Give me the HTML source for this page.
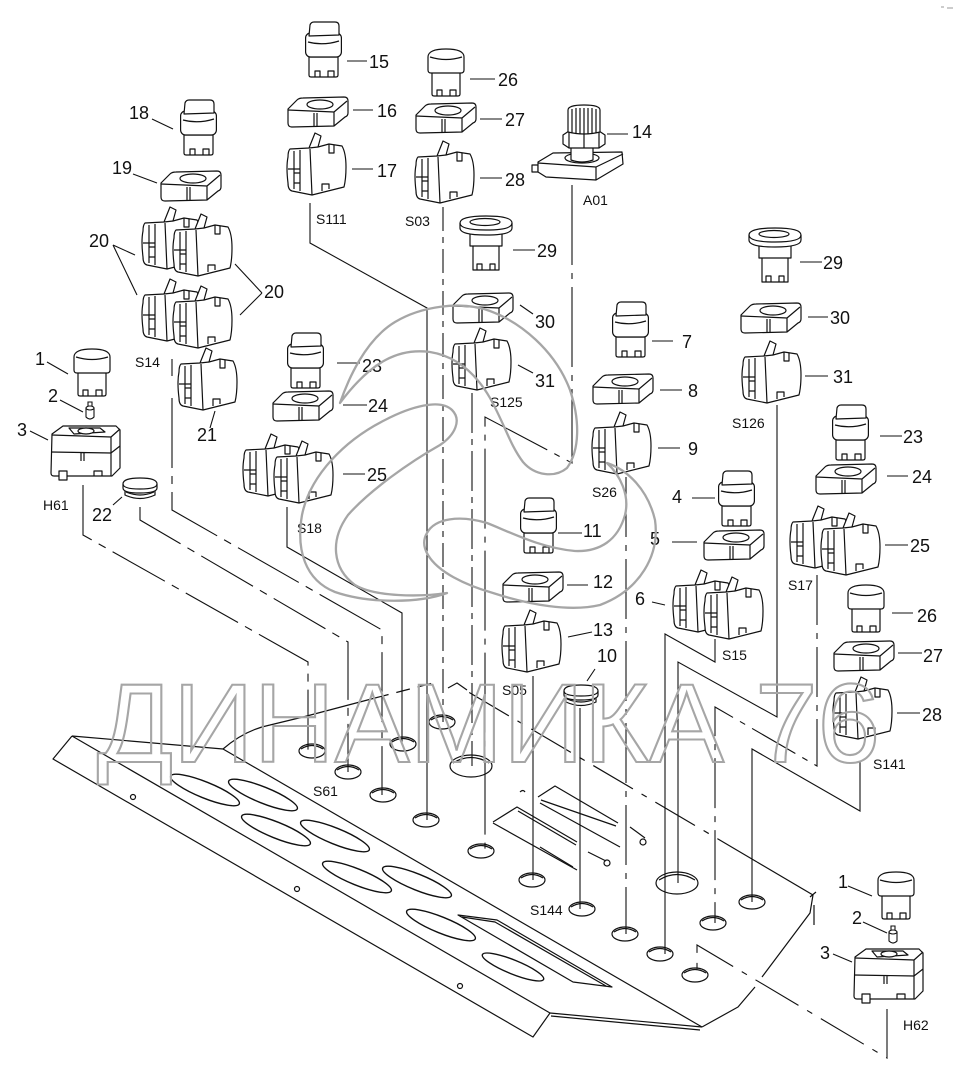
<!DOCTYPE html>
<html><head><meta charset="utf-8">
<style>
html,body{margin:0;padding:0;background:#fff;}
svg{display:block;}
text{font-family:"Liberation Sans",sans-serif;fill:#111;}
.n{font-size:18px;}
.s{font-size:14px;}
</style></head><body>
<svg width="961" height="1085" viewBox="0 0 961 1085" xmlns="http://www.w3.org/2000/svg">
<defs>
<g id="K" fill="#fff" stroke="#111" stroke-width="1.2" stroke-linejoin="round">
 <path d="M4,35 V53 Q4,55 6,55 H31 Q33,55 33,53 V35 Z"/>
 <path d="M10,55 V49 H15 V55 M23,55 V49 H29 V55" fill="none"/>
 <rect x="0.6" y="11" width="35.8" height="24" rx="5"/>
 <path d="M4,14 L5,3 Q6,0 9,0 H30 Q34,0 34,4 V13 Z"/>
 <path d="M3,20 Q18,24 34,19" fill="none"/>
</g>
<g id="B" fill="#fff" stroke="#111" stroke-width="1.2" stroke-linejoin="round">
 <path d="M5,25 V47 Q5,49 7,49 H31 Q33,49 33,47 V25 Z"/>
 <path d="M10,49 V43 H15 V49 M23,49 V43 H29 V49" fill="none"/>
 <path d="M1,10 Q1,2 19,2 Q37,2 37,10 V23 Q37,26 34,26 H4 Q1,26 1,23 Z"/>
 <path d="M3,10 Q19,15 35,10" fill="none"/>
</g>
<g id="F" fill="#fff" stroke="#111" stroke-width="1.2" stroke-linejoin="round">
 <path d="M13,28 V54 H39 V28 Z"/>
 <path d="M17,54 V48 H22 V54 M30,54 V48 H35 V54" fill="none"/>
 <path d="M10,16 V30 H42 V16 Z"/>
 <path d="M0,7 Q0,0 26,0 Q52,0 52,7 V12 Q52,19 26,19 Q0,19 0,12 Z"/>
 <path d="M0,7 Q0,14 26,14 Q52,14 52,7" fill="none"/>
 <ellipse cx="25" cy="6" rx="15" ry="3.5" fill="none"/>
</g>
<g id="A" fill="#fff" stroke="#111" stroke-width="1.2" stroke-linejoin="round">
 <path d="M1,12 L10,3 Q12,1 16,1 L57,0 Q61,0 61,4 V16 Q61,19 58,20 L47,29 L5,30 Q1,30 1,26 Z"/>
 <path d="M1,13 L47,15 L60,4 M47,15 V29 M27,16 V30 M30,16 V30" fill="none"/>
 <ellipse cx="33" cy="7.5" rx="13" ry="4.5" fill="none"/>
</g>
<g id="C" fill="#fff" stroke="#111" stroke-width="1.2" stroke-linejoin="round">
 <path d="M3,16 L22,15 L28,0 L34,3 L31,14 L42,11 L55,13 Q59,20 59,34 Q59,46 57,54 L25,62 L5,58 Q1,57 1,50 Q-1,34 1,24 Q1,18 3,16 Z"/>
 <path d="M7,18 V56 M13,17 V58 M23,16 L25,62 M1,36 H13 M7,40 H13 V50 H7 M35,58 V51 H42 V56 M42,11 V20 H47 V12 M22,15 L31,14" fill="none"/>
</g>
<g id="D"><use href="#C"/><use href="#C" x="31" y="7"/></g>
<g id="BS" fill="#fff" stroke="#111" stroke-width="1.2" stroke-linejoin="round">
 <path d="M2,9 L13,1 H66 L70,5 V43 L62,51 H4 Q1,51 1,48 Z"/>
 <path d="M2,10 L61,12 L70,4 M61,12 V51 M1,27 L61,28 L70,21 M19,3 H50 L55,7 L24,9 Z M31,28 V36 M34,28 V36 M44,51 V46 H52 V51" fill="none"/>
 <ellipse cx="36" cy="6" rx="8" ry="3"/>
 <path d="M9,46 V55 H17 V46 Z"/>
</g>
<g id="P" fill="#fff" stroke="#111" stroke-width="1.2" stroke-linejoin="round">
 <path d="M0,60 H-6 V67 H0 Z M15,65 V72 H24 V66 Z"/>
 <path d="M0,57 L15,48 L84,47 L85,59 L58,75 L8,72 L0,67 Z"/>
 <path d="M0,58 L58,62 L85,49 M58,62 V75" fill="none"/>
 <ellipse cx="44" cy="53" rx="17" ry="5" fill="none"/>
 <path d="M33,42 V55 Q44,59 55,55 V42 Z"/>
 <path d="M25,30 L31,26 H61 L67,30 V39 L61,43 H31 L25,39 Z"/>
 <path d="M31,26 V43 M46,26 V43 M61,26 V43" fill="none"/>
 <path d="M30,5 Q30,0 46,0 Q62,0 62,5 V27 Q46,31 30,27 Z"/>
 <path d="M34,4 V28 M38,3 V29 M42,3 V29 M46,3 V29 M50,3 V29 M54,3 V29 M58,4 V28" fill="none"/>
</g>
<g id="PIN" fill="#fff" stroke="#111" stroke-width="1.1">
 <path d="M3,5 V0 H7 V5 Z"/>
 <path d="M1,6 V15 Q5,19 9,15 V6 Z"/>
 <ellipse cx="5" cy="6" rx="4" ry="2"/>
</g>
<g id="CAP" fill="#fff" stroke="#111" stroke-width="1.2">
 <path d="M3,12 V18 Q18,25 33,18 V12 Z"/>
 <path d="M1,7 Q1,1 18,1 Q35,1 35,7 V11 Q35,16 18,16 Q1,16 1,11 Z"/>
 <path d="M1,7 Q1,12 18,12 Q35,12 35,7 M4,15 Q18,21 32,15" fill="none"/>
</g>
</defs>

<rect width="961" height="1085" fill="#fff"/>
<path d="M941,7 h3 M947,8 h6" stroke="#999" stroke-width="1"/>

<g fill="none" stroke="#111" stroke-width="1.2" stroke-linejoin="round">
 <path d="M72,736 L53,759 L533,1037 L550,1013"/>
 <path d="M72,736 L550,1013"/>
 <path d="M72,736 L223,749"/>
 <path d="M223,749 L702,1027"/>
 <path d="M550,1013 L702,1027 M551,1016 L700,1030"/>
 <path d="M702,1027 L738,1007 L755,987 M762,977 L810,913 L813,895 M810,897 L816,892 M814,905 V925"/>
 <path d="M813,895 L757,862"/>
 <path d="M757,862 L465,690" stroke-dasharray="46,10,6,10"/>
 <path d="M223,749 Q245,730 270,725 L303,717 L375,698"/>
 <path d="M375,698 L433,683" stroke-dasharray="14,8"/>
 <path d="M448,688 L457,683 L467,690"/>
 <g stroke-width="1.4">
 <ellipse cx="205" cy="790" rx="37" ry="8" transform="rotate(22 205 790)"/>
 <ellipse cx="263" cy="795" rx="37" ry="8" transform="rotate(22 263 795)"/>
 <ellipse cx="276" cy="830" rx="37" ry="8" transform="rotate(22 276 830)"/>
 <ellipse cx="335" cy="836" rx="37" ry="8" transform="rotate(22 335 836)"/>
 <ellipse cx="357" cy="877" rx="37" ry="8" transform="rotate(22 357 877)"/>
 <ellipse cx="417" cy="882" rx="37" ry="8" transform="rotate(22 417 882)"/>
 <ellipse cx="441" cy="925" rx="37" ry="8" transform="rotate(22 441 925)"/>
 <ellipse cx="513" cy="967" rx="33" ry="7" transform="rotate(22 513 967)"/>
 </g>
 <path d="M458,915 L497,920 L612,987 L573,982 Z M462,917 L495,922 L606,986"/>
 <circle cx="133" cy="797" r="2.5"/><circle cx="297" cy="889" r="2.5"/><circle cx="460" cy="986" r="2.5"/>
 <path d="M538,797 L555,786 L618,823 M541,800 L616,826 M540,803 L620,847 M630,827 L645,838 M540,847 L573,867"/>
 <circle cx="643" cy="842" r="3"/>
 <path d="M493,822 L517,807 L577,842 M518,811 L576,845 M493,823 L577,870 M588,852 L606,861"/>
 <circle cx="607" cy="863" r="3"/>
 <path d="M520,792 q3,-3 5,0"/>
 <g stroke-width="1.2">
 <ellipse cx="312" cy="751" rx="13" ry="7"/><path d="M301,749 Q312,742 323,749"/>
 <ellipse cx="348" cy="772" rx="13" ry="7"/><path d="M337,770 Q348,763 359,770"/>
 <ellipse cx="383" cy="795" rx="13" ry="7"/><path d="M372,793 Q383,786 394,793"/>
 <ellipse cx="403" cy="744" rx="13" ry="7"/><path d="M392,742 Q403,735 414,742"/>
 <ellipse cx="426" cy="820" rx="13" ry="7"/><path d="M415,818 Q426,811 437,818"/>
 <ellipse cx="442" cy="722" rx="13" ry="7"/><path d="M431,720 Q442,713 453,720"/>
 <ellipse cx="481" cy="851" rx="13" ry="7"/><path d="M470,849 Q481,842 492,849"/>
 <ellipse cx="532" cy="880" rx="13" ry="7"/><path d="M521,878 Q532,871 543,878"/>
 <ellipse cx="582" cy="909" rx="13" ry="7"/><path d="M571,907 Q582,900 593,907"/>
 <ellipse cx="625" cy="934" rx="13" ry="7"/><path d="M614,932 Q625,925 636,932"/>
 <ellipse cx="660" cy="954" rx="13" ry="7"/><path d="M649,952 Q660,945 671,952"/>
 <ellipse cx="695" cy="975" rx="13" ry="7"/><path d="M684,973 Q695,966 706,973"/>
 <ellipse cx="713" cy="923" rx="13" ry="7"/><path d="M702,921 Q713,914 724,921"/>
 <ellipse cx="752" cy="902" rx="13" ry="7"/><path d="M741,900 Q752,893 763,900"/>
 <ellipse cx="471" cy="766" rx="21" ry="11"/><path d="M453,763 Q471,752 489,763"/>
 <ellipse cx="677" cy="883" rx="21" ry="11"/><path d="M659,880 Q677,869 695,880"/>
 </g>
</g>

<g fill="none" stroke="#111" stroke-width="1.1">
 <path d="M83,485V535L308,662V751" stroke-dasharray="60,8,8,8"/>
 <path d="M140,507V520L348,642V772" stroke-dasharray="60,8,8,8"/>
 <path d="M172,359V376 M172,398V510L382,630V795" stroke-dasharray="70,8,8,8"/>
 <path d="M287,507V547L402,613V744"/>
 <path d="M310,203V243L427,308V820"/>
 <path d="M443,207V722" stroke-dasharray="24,6,6,6"/>
 <path d="M472,393V766" stroke-dasharray="40,6,6,6"/>
 <path d="M572,185V463L485,417V851" stroke-dasharray="80,8,6,8"/>
 <path d="M533,676V880"/>
 <path d="M580,708V909"/>
 <path d="M626,477V934" stroke-dasharray="60,8,6,8"/>
 <path d="M715,639V662L665,634V954"/>
 <path d="M777,405V717L678,662V883"/>
 <path d="M817,575V766L715,707V923" stroke-dasharray="50,8,6,8"/>
 <path d="M860,762V811L752,749V902"/>
 <path d="M887,1009V1058L697,945V975" stroke-dasharray="50,10,6,10"/>
</g>

<path fill="none" stroke="#111" stroke-width="1.1" d="M347,61H367 M353,110H373 M352,169H373 M470,79H495 M480,119H502 M480,178H502 M607,134H628 M513,250H535 M520,305L533,314 M518,365L533,373 M152,119L173,129 M133,174L157,183 M113,245L135,255 M113,245L137,295 M262,293L235,264 M262,293L240,315 M215,411L210,428 M47,362L68,374 M60,400L83,412 M30,431L48,440 M113,505L122,497 M337,363H360 M343,405H367 M343,474H365 M800,262H822 M808,317H828 M805,376H828 M652,341H673 M660,390H682 M658,448H680 M880,436H902 M887,476H908 M692,498H715 M558,533H582 M672,542H697 M652,602L665,605 M567,585H588 M885,545H908 M568,637L592,632 M595,669L587,681 M892,613H913 M898,653H922 M897,713H920 M848,886L872,896 M863,922L887,933 M833,954L852,962"/>

<use href="#K" x="305" y="22"/>
<use href="#A" x="287" y="97"/>
<use href="#C" x="287" y="133"/>
<use href="#B" x="427" y="47"/>
<use href="#A" x="415" y="103"/>
<use href="#C" x="415" y="141"/>
<use href="#P" x="538" y="105"/>
<use href="#F" x="460" y="216"/>
<use href="#A" x="452" y="293"/>
<use href="#C" x="452" y="328"/>
<use href="#K" x="180" y="100"/>
<use href="#A" x="160" y="171"/>
<use href="#D" x="142" y="207"/>
<use href="#D" x="142" y="279"/>
<use href="#C" x="178" y="348"/>
<use href="#B" x="73" y="347"/>
<use href="#PIN" x="85" y="402"/>
<use href="#BS" x="50" y="425"/>
<use href="#CAP" x="122" y="477"/>
<use href="#K" x="287" y="333"/>
<use href="#A" x="272" y="391"/>
<use href="#D" x="243" y="434"/>
<use href="#F" x="749" y="228"/>
<use href="#A" x="740" y="303"/>
<use href="#C" x="742" y="341"/>
<use href="#K" x="612" y="302"/>
<use href="#A" x="592" y="374"/>
<use href="#C" x="592" y="412"/>
<use href="#K" x="832" y="405"/>
<use href="#A" x="815" y="464"/>
<use href="#D" x="790" y="506"/>
<use href="#K" x="718" y="471"/>
<use href="#A" x="703" y="530"/>
<use href="#D" x="673" y="570"/>
<use href="#K" x="520" y="498"/>
<use href="#A" x="502" y="572"/>
<use href="#C" x="502" y="610"/>
<use href="#CAP" x="563" y="684"/>
<use href="#B" x="847" y="583"/>
<use href="#A" x="833" y="641"/>
<use href="#C" x="833" y="677"/>
<use href="#B" x="877" y="870"/>
<use href="#PIN" x="888" y="926"/>
<use href="#BS" x="853" y="948"/>

<g>
<text x="369" y="68" class="n">15</text>
<text x="377" y="117" class="n">16</text>
<text x="377" y="177" class="n">17</text>
<text x="498" y="86" class="n">26</text>
<text x="505" y="126" class="n">27</text>
<text x="505" y="186" class="n">28</text>
<text x="632" y="138" class="n">14</text>
<text x="537" y="257" class="n">29</text>
<text x="535" y="328" class="n">30</text>
<text x="535" y="387" class="n">31</text>
<text x="129" y="119" class="n">18</text>
<text x="112" y="174" class="n">19</text>
<text x="89" y="247" class="n">20</text>
<text x="264" y="298" class="n">20</text>
<text x="197" y="441" class="n">21</text>
<text x="35" y="365" class="n">1</text>
<text x="48" y="402" class="n">2</text>
<text x="17" y="436" class="n">3</text>
<text x="92" y="521" class="n">22</text>
<text x="362" y="372" class="n">23</text>
<text x="368" y="412" class="n">24</text>
<text x="367" y="481" class="n">25</text>
<text x="823" y="269" class="n">29</text>
<text x="830" y="324" class="n">30</text>
<text x="833" y="383" class="n">31</text>
<text x="682" y="348" class="n">7</text>
<text x="688" y="397" class="n">8</text>
<text x="688" y="455" class="n">9</text>
<text x="903" y="443" class="n">23</text>
<text x="912" y="483" class="n">24</text>
<text x="672" y="503" class="n">4</text>
<text x="583" y="537" class="n">11</text>
<text x="650" y="545" class="n">5</text>
<text x="635" y="605" class="n">6</text>
<text x="593" y="588" class="n">12</text>
<text x="910" y="552" class="n">25</text>
<text x="593" y="636" class="n">13</text>
<text x="597" y="662" class="n">10</text>
<text x="917" y="622" class="n">26</text>
<text x="923" y="662" class="n">27</text>
<text x="922" y="721" class="n">28</text>
<text x="838" y="888" class="n">1</text>
<text x="852" y="924" class="n">2</text>
<text x="820" y="959" class="n">3</text>
</g>
<g>
<text x="316" y="224" class="s">S111</text>
<text x="405" y="226" class="s">S03</text>
<text x="583" y="205" class="s">A01</text>
<text x="490" y="407" class="s">S125</text>
<text x="135" y="367" class="s">S14</text>
<text x="43" y="510" class="s">H61</text>
<text x="297" y="533" class="s">S18</text>
<text x="732" y="428" class="s">S126</text>
<text x="592" y="497" class="s">S26</text>
<text x="788" y="590" class="s">S17</text>
<text x="722" y="660" class="s">S15</text>
<text x="502" y="695" class="s">S05</text>
<text x="873" y="769" class="s">S141</text>
<text x="313" y="796" class="s">S61</text>
<text x="530" y="915" class="s">S144</text>
<text x="903" y="1030" class="s">H62</text>
</g>

<g fill="none" stroke="#a6a6a6" stroke-width="2.3" stroke-linejoin="round">
 <path d="M340,403 C348,380 365,340 395,322 C420,307 460,300 490,311 C520,322 555,350 570,390 C580,420 580,450 567,468 C555,478 535,476 523,462 C510,445 505,425 490,398 C475,372 455,356 430,352 C400,348 372,360 340,403 Z"/>
 <path d="M447,593 C420,603 370,604 335,592 C305,580 296,550 302,515 C310,475 345,440 385,420 C410,407 440,398 452,410 C462,420 455,435 440,445 C410,462 370,490 348,515 C330,540 332,568 355,585 C375,597 420,597 447,593 Z"/>
 <path d="M427,533 C435,518 460,515 487,523 C510,532 540,548 575,551 C600,552 618,540 625,515 C630,495 620,475 607,463 C628,470 648,490 655,520 C660,555 640,590 600,605 C570,612 530,605 493,593 C465,585 438,572 428,555 C422,545 424,538 427,533 Z"/>
</g>
<text x="97" y="762" font-size="112" textLength="783" lengthAdjust="spacingAndGlyphs" style="fill:none;stroke:#a6a6a6;stroke-width:2.1;font-family:'Liberation Sans',sans-serif;">ДИНАМИКА 76</text>
</svg>
</body></html>
